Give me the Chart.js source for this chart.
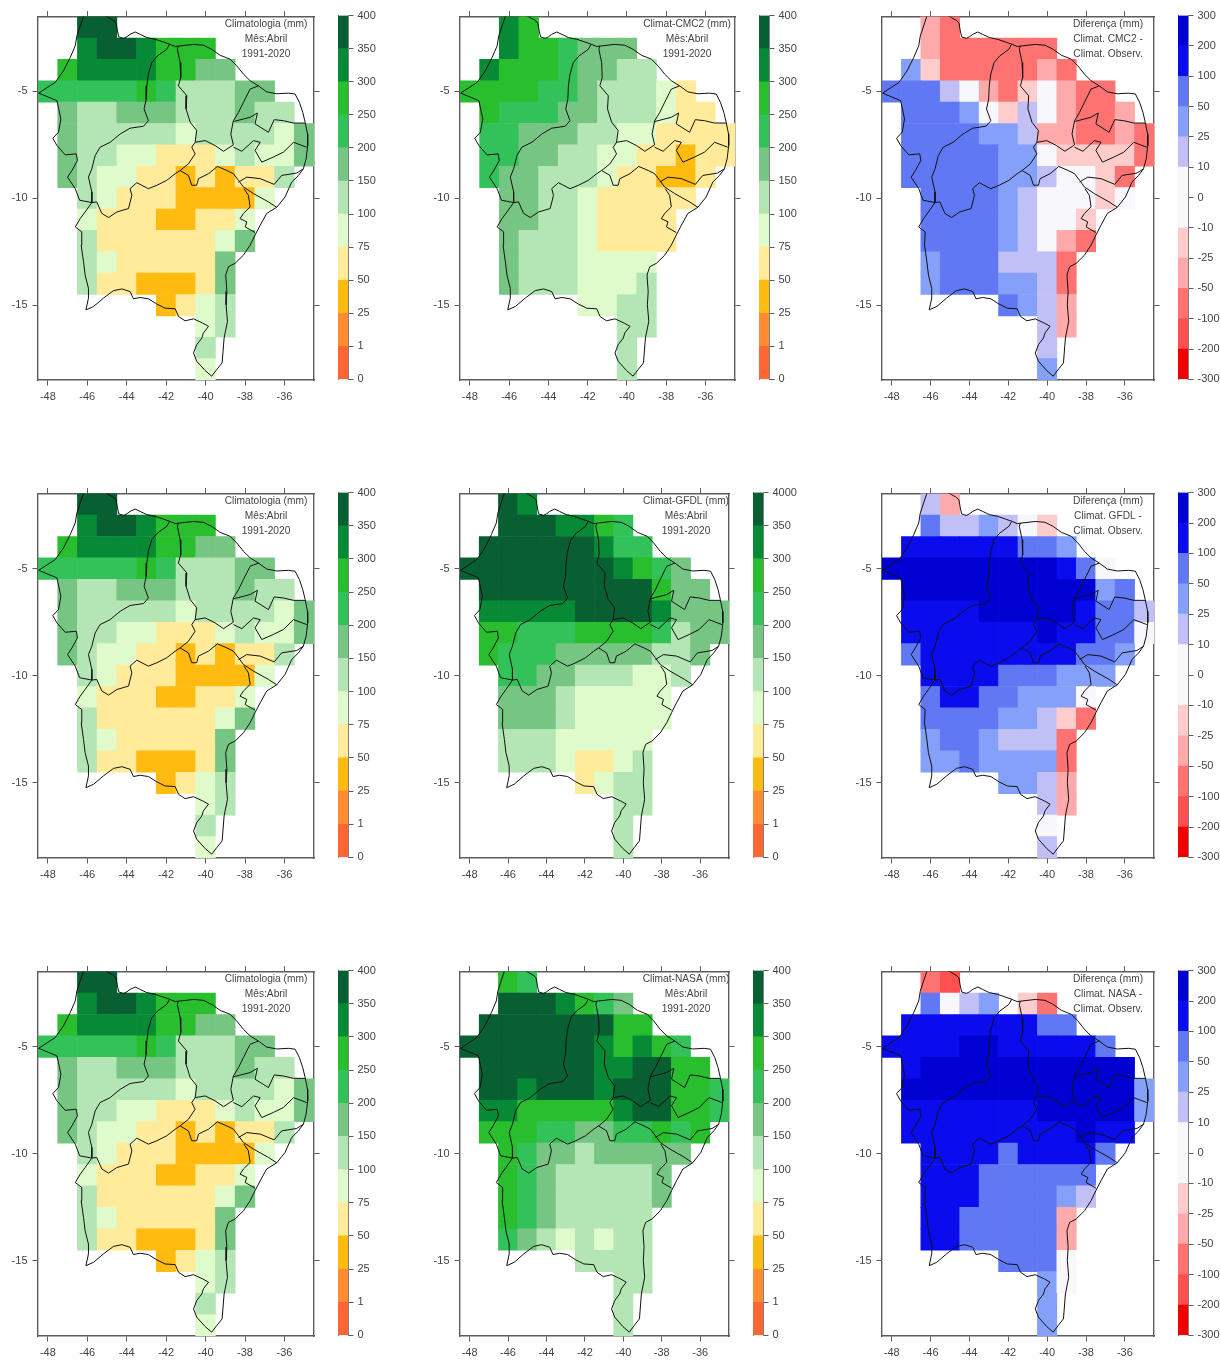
<!DOCTYPE html>
<html>
<head>
<meta charset="utf-8">
<title>Climatologia Abril</title>
<script src="https://cdn.jsdelivr.net/npm/chart.js@4"></script>
<style>
  html, body { margin: 0; background: #fff; }
  body { position: relative; width: 1220px; height: 1360px; overflow: hidden; }
  canvas { position: absolute; }
</style>
</head>
<body>
<script>
const _ = null;

// grid: lat -2..-18 (rows), lon -48..-35 (columns), value = middle of the class
const lats = [-2, -3, -4, -5, -6, -7, -8, -9, -10, -11, -12, -13, -14, -15, -16, -17, -18];
const lons = [-48, -47, -46, -45, -44, -43, -42, -41, -40, -39, -38, -37, -36, -35];
const lonTicks = [-48, -46, -44, -42, -40, -38, -36];
const latTicks = [-5, -10, -15];

const rainLevels = [0, 1, 25, 50, 75, 100, 150, 200, 250, 300, 350, 400];
const rainLabels = ["0", "1", "25", "50", "75", "100", "150", "200", "250", "300", "350", "400"];
const gfdlLabels = ["0", "1", "25", "50", "75", "100", "150", "200", "250", "300", "350", "4000"];
const rainColors = ["#ff6633", "#ff8c33", "#ffbb0f", "#ffeb9a", "#dffbcb", "#b4e5b4", "#76c583", "#33c25a", "#28be2d", "#078a35", "#085f32"];
const diffLevels = [-300, -200, -100, -50, -25, -10, 10, 25, 50, 100, 200, 300];
const diffLabels = ["-300", "-200", "-100", "-50", "-25", "-10", "0", "10", "25", "50", "100", "200", "300"];
const diffColors = ["#f00000", "#ff5050", "#ff7272", "#ffaaaa", "#ffcccc", "#f8f8fc", "#c0c0f7", "#84a0f9", "#6078f4", "#0a0cee", "#0000d2"];
// the colour bar has one step more than the map: white covers 10..0 and 0..-10
const diffBarColors = ["#f00000", "#ff5050", "#ff7272", "#ffaaaa", "#ffcccc", "#f8f8fc", "#f8f8fc", "#c0c0f7", "#84a0f9", "#6078f4", "#0a0cee", "#0000d2"];

const obsClim = [
  [_, _, 375, 375, _, _, _, _, _, _, _, _, _, _],
  [_, _, 325, 375, 375, 325, 275, 275, 275, _, _, _, _, _],
  [_, 275, 325, 325, 325, 325, 275, 275, 175, 175, _, _, _, _],
  [225, 225, 225, 225, 225, 275, 225, 125, 125, 125, 175, 175, _, _],
  [_, 175, 125, 125, 175, 175, 175, 125, 125, 125, 175, 125, 125, _],
  [_, 175, 125, 125, 125, 125, 125, 90, 125, 125, 125, 125, 90, 175],
  [_, 175, 125, 125, 90, 90, 60, 60, 60, 90, 125, 90, 90, 175],
  [_, 175, 125, 90, 90, 60, 60, 38, 60, 38, 60, 60, 125, _],
  [_, _, 125, 90, 60, 60, 60, 38, 38, 38, 38, 90, _, _],
  [_, _, 90, 60, 60, 60, 38, 38, 60, 60, 90, _, _, _],
  [_, _, 125, 60, 60, 60, 60, 60, 60, 90, 175, _, _, _],
  [_, _, 125, 90, 60, 60, 60, 60, 60, 175, _, _, _, _],
  [_, _, 125, 60, 60, 38, 38, 38, 60, 175, _, _, _, _],
  [_, _, _, _, _, _, 38, 60, 90, 125, _, _, _, _],
  [_, _, _, _, _, _, _, _, 90, 125, _, _, _, _],
  [_, _, _, _, _, _, _, _, 125, _, _, _, _, _],
  [_, _, _, _, _, _, _, _, 90, _, _, _, _, _],
];

const cmc2Clim = [
  [_, _, 325, 275, _, _, _, _, _, _, _, _, _, _],
  [_, _, 325, 275, 275, 225, 175, 175, 175, _, _, _, _, _],
  [_, 325, 275, 275, 275, 225, 175, 175, 125, 125, _, _, _, _],
  [275, 275, 275, 275, 225, 225, 175, 125, 125, 125, 90, 60, _, _],
  [_, 275, 225, 225, 225, 175, 175, 125, 125, 125, 90, 60, 60, _],
  [_, 225, 225, 175, 175, 175, 125, 125, 90, 90, 60, 60, 60, 60],
  [_, 225, 225, 175, 175, 125, 125, 90, 90, 60, 60, 38, 60, 60],
  [_, 225, 175, 175, 125, 125, 125, 90, 60, 60, 38, 38, 60, _],
  [_, _, 175, 175, 125, 125, 90, 60, 60, 60, 60, 60, _, _],
  [_, _, 175, 175, 125, 125, 90, 60, 60, 60, 60, _, _, _],
  [_, _, 175, 125, 125, 125, 90, 60, 60, 60, 60, _, _, _],
  [_, _, 175, 125, 125, 125, 90, 90, 90, 90, _, _, _, _],
  [_, _, 175, 125, 125, 125, 90, 90, 90, 125, _, _, _, _],
  [_, _, _, _, _, _, 90, 90, 125, 125, _, _, _, _],
  [_, _, _, _, _, _, _, _, 125, 125, _, _, _, _],
  [_, _, _, _, _, _, _, _, 125, _, _, _, _, _],
  [_, _, _, _, _, _, _, _, 125, _, _, _, _, _],
];

const cmc2Diff = [
  [_, _, -37, -75, _, _, _, _, _, _, _, _, _, _],
  [_, _, -37, -75, -75, -75, -75, -75, -75, _, _, _, _, _],
  [_, 37, -17, -75, -75, -75, -75, -75, -37, -75, _, _, _, _],
  [75, 75, 75, 17, 0, -37, -75, -17, 0, -37, -75, -75, _, _],
  [_, 75, 75, 75, 37, 0, -17, 17, 0, -37, -75, -75, -37, _],
  [_, 75, 75, 75, 75, 37, 37, 17, -37, -37, -75, -75, -37, -75],
  [_, 75, 75, 75, 75, 75, 37, 37, 0, -17, -17, -17, -17, -75],
  [_, 75, 75, 75, 75, 75, 37, 37, 17, 0, 0, -17, -75, _],
  [_, _, 75, 75, 75, 75, 37, 17, 0, 0, 0, -17, 0, _],
  [_, _, 75, 75, 75, 75, 37, 17, 0, 0, -17, _, _, _],
  [_, _, 75, 75, 75, 75, 37, 17, 0, -37, -75, _, _, _],
  [_, _, 37, 75, 75, 75, 17, 17, 17, -75, _, _, _, _],
  [_, _, 37, 75, 75, 75, 37, 37, 17, -75, _, _, _, _],
  [_, _, _, _, _, _, 75, 37, 17, -37, _, _, _, _],
  [_, _, _, _, _, _, _, _, 17, -37, _, _, _, _],
  [_, _, _, _, _, _, _, _, 17, _, _, _, _, _],
  [_, _, _, _, _, _, _, _, 37, _, _, _, _, _],
];

const gfdlClim = [
  [_, _, 375, 325, _, _, _, _, _, _, _, _, _, _],
  [_, _, 375, 375, 375, 325, 325, 275, 225, _, _, _, _, _],
  [_, 375, 375, 375, 375, 375, 375, 325, 225, 225, _, _, _, _],
  [375, 375, 375, 375, 375, 375, 375, 375, 325, 275, 225, 175, _, _],
  [_, 375, 375, 375, 375, 375, 375, 375, 375, 375, 275, 175, 175, _],
  [_, 325, 325, 325, 325, 325, 375, 375, 375, 375, 325, 175, 175, 175],
  [_, 275, 275, 225, 225, 225, 275, 275, 275, 275, 225, 125, 175, 175],
  [_, 275, 225, 225, 225, 175, 175, 175, 175, 175, 125, 125, 175, _],
  [_, _, 225, 225, 175, 175, 125, 125, 125, 90, 90, 125, _, _],
  [_, _, 175, 175, 175, 125, 90, 90, 90, 90, 90, _, _, _],
  [_, _, 175, 175, 175, 125, 90, 90, 90, 90, 90, _, _, _],
  [_, _, 125, 125, 125, 90, 90, 90, 90, 90, _, _, _, _],
  [_, _, 125, 125, 125, 90, 60, 60, 90, 125, _, _, _, _],
  [_, _, _, _, _, _, 60, 90, 125, 125, _, _, _, _],
  [_, _, _, _, _, _, _, _, 125, 125, _, _, _, _],
  [_, _, _, _, _, _, _, _, 125, _, _, _, _, _],
  [_, _, _, _, _, _, _, _, 125, _, _, _, _, _],
];

const gfdlDiff = [
  [_, _, 17, -37, _, _, _, _, _, _, _, _, _, _],
  [_, _, 75, 17, 17, 37, 17, 0, -17, _, _, _, _, _],
  [_, 150, 150, 150, 150, 150, 150, 75, 75, 37, _, _, _, _],
  [250, 250, 250, 250, 250, 250, 250, 250, 250, 150, 75, 0, _, _],
  [_, 250, 250, 250, 250, 250, 250, 250, 250, 250, 250, 37, 75, _],
  [_, 150, 150, 150, 150, 250, 250, 250, 250, 250, 150, 75, 75, 17],
  [_, 150, 150, 150, 150, 150, 150, 150, 250, 150, 150, 75, 75, 0],
  [_, 75, 150, 150, 150, 150, 150, 150, 150, 150, 75, 75, 37, _],
  [_, _, 150, 150, 150, 150, 75, 75, 75, 37, 37, 37, _, _],
  [_, _, 75, 150, 150, 75, 75, 37, 37, 37, 0, _, _, _],
  [_, _, 75, 75, 75, 75, 37, 37, 17, -17, -75, _, _, _],
  [_, _, 37, 75, 75, 37, 17, 17, 17, -75, _, _, _, _],
  [_, _, 37, 37, 75, 37, 37, 37, 37, -75, _, _, _, _],
  [_, _, _, _, _, _, 37, 37, 17, -37, _, _, _, _],
  [_, _, _, _, _, _, _, _, 17, -37, _, _, _, _],
  [_, _, _, _, _, _, _, _, 0, _, _, _, _, _],
  [_, _, _, _, _, _, _, _, 17, _, _, _, _, _],
];

const nasaClim = [
  [_, _, 275, 225, _, _, _, _, _, _, _, _, _, _],
  [_, _, 375, 375, 375, 325, 275, 225, 175, _, _, _, _, _],
  [_, 375, 375, 375, 375, 375, 375, 375, 275, 275, _, _, _, _],
  [375, 375, 375, 375, 375, 375, 375, 325, 275, 325, 275, 225, _, _],
  [_, 375, 375, 375, 375, 375, 375, 325, 325, 375, 375, 275, 275, _],
  [_, 375, 375, 325, 375, 375, 375, 325, 375, 375, 375, 275, 275, 225],
  [_, 325, 325, 275, 275, 275, 275, 275, 325, 375, 375, 275, 275, 225],
  [_, 275, 275, 275, 225, 225, 175, 175, 225, 225, 275, 225, 275, _],
  [_, _, 275, 225, 175, 175, 125, 175, 175, 175, 175, 175, _, _],
  [_, _, 275, 225, 175, 125, 125, 125, 125, 125, 175, _, _, _],
  [_, _, 275, 225, 175, 125, 125, 125, 125, 125, 175, _, _, _],
  [_, _, 275, 225, 175, 125, 125, 125, 125, 125, _, _, _, _],
  [_, _, 225, 175, 125, 90, 125, 90, 125, 125, _, _, _, _],
  [_, _, _, _, _, _, 125, 125, 125, 125, _, _, _, _],
  [_, _, _, _, _, _, _, _, 125, 125, _, _, _, _],
  [_, _, _, _, _, _, _, _, 125, _, _, _, _, _],
  [_, _, _, _, _, _, _, _, 125, _, _, _, _, _],
];

const nasaDiff = [
  [_, _, -75, -150, _, _, _, _, _, _, _, _, _, _],
  [_, _, 75, 0, 17, 37, _, -17, -75, _, _, _, _, _],
  [_, 150, 150, 150, 150, 150, 150, 150, 75, 75, _, _, _, _],
  [150, 150, 150, 150, 250, 250, 150, 150, 150, 150, 150, 75, _, _],
  [_, 150, 250, 250, 250, 250, 250, 250, 250, 250, 250, 250, 250, _],
  [_, 250, 250, 250, 250, 250, 250, 250, 250, 250, 250, 250, 250, 37],
  [_, 150, 150, 150, 150, 150, 150, 150, 250, 250, 250, 250, 250, 37],
  [_, 150, 150, 150, 150, 150, 150, 150, 150, 150, 250, 150, 150, _],
  [_, _, 150, 150, 150, 150, 75, 150, 150, 150, 150, 75, _, _],
  [_, _, 150, 150, 150, 75, 75, 75, 75, 75, 75, _, _, _],
  [_, _, 150, 150, 150, 75, 75, 75, 75, 37, 17, _, _, _],
  [_, _, 150, 150, 75, 75, 75, 75, 75, -37, _, _, _, _],
  [_, _, 150, 150, 75, 75, 75, 75, 75, -37, _, _, _, _],
  [_, _, _, _, _, _, 75, 75, 75, 0, _, _, _, _],
  [_, _, _, _, _, _, _, _, 37, 0, _, _, _, _],
  [_, _, _, _, _, _, _, _, 37, _, _, _, _, _],
  [_, _, _, _, _, _, _, _, 37, _, _, _, _, _],
];

// borders as [lon, lat]
const outerBorder = [
  [-45.2, -1.4], [-44.92, -1.55], [-44.7, -1.66], [-44.54, -1.79], [-44.47, -2.17], [-44.4, -2.45], [-44.16, -2.52], [-43.99, -2.44],
  [-43.83, -2.33], [-43.57, -2.22], [-43.32, -2.33], [-42.98, -2.48], [-42.56, -2.56], [-42.14, -2.69], [-41.8, -2.8], [-41.54, -2.9],
  [-41.29, -2.87], [-40.61, -2.8], [-40.11, -2.84], [-39.69, -3.03], [-39.26, -3.31], [-38.76, -3.49], [-38.42, -3.8], [-38.08, -4.19],
  [-37.74, -4.5], [-37.32, -4.74], [-36.9, -5.02], [-36.39, -5.11], [-35.8, -5.08], [-35.46, -5.12], [-35.24, -5.51], [-35.07, -5.98],
  [-34.95, -6.44], [-34.83, -6.99], [-34.82, -7.53], [-34.9, -8.15], [-35.04, -8.62], [-35.29, -8.93], [-35.63, -9.24], [-35.97, -9.94],
  [-36.39, -10.42], [-36.9, -10.71], [-37.23, -11.26], [-37.49, -11.72], [-37.74, -12.19], [-38.08, -12.66], [-38.5, -13.04], [-38.84, -13.2],
  [-38.98, -13.59], [-38.92, -14.36], [-38.96, -14.98], [-38.89, -15.76], [-39.06, -16.54], [-39.16, -17.7], [-39.43, -18.01], [-39.69, -18.32],
  [-40.02, -18.06], [-40.45, -17.62], [-40.61, -17.24], [-40.45, -16.85], [-40.19, -16.54], [-40.11, -16.3], [-39.85, -15.99], [-40.14, -15.84],
  [-40.61, -15.64], [-41.04, -15.73], [-41.37, -15.53], [-41.54, -15.17], [-42.05, -15.14], [-42.47, -14.95], [-42.9, -14.7], [-43.32, -14.64],
  [-43.66, -14.7], [-43.83, -14.36], [-44.25, -14.24], [-44.67, -14.32], [-45.18, -14.67], [-45.68, -15.06], [-46.07, -15.22], [-45.94, -14.67],
  [-45.94, -14.21], [-46.11, -13.59], [-46.19, -12.97], [-46.31, -12.19], [-46.28, -11.57], [-46.61, -11.34], [-46.36, -10.95], [-46.11, -10.64],
  [-45.77, -10.2], [-46.39, -10.09], [-46.61, -9.55], [-47, -9.01], [-46.78, -8.7], [-46.5, -8.23], [-46.56, -7.92], [-47.12, -7.97],
  [-47.54, -7.53], [-47.75, -7.19], [-47.46, -6.91], [-47.34, -6.29], [-47.54, -5.43], [-48.47, -5.08], [-47.63, -4.58], [-47.21, -4.04],
  [-46.87, -3.42], [-46.61, -2.87], [-46.53, -2.41], [-46.19, -1.48], [-46.02, -1.16],
];
const borderMaPi = [
  [-41.83, -2.8], [-41.97, -3.03], [-42.44, -3.34], [-42.73, -3.65], [-42.9, -4.19], [-42.98, -4.74], [-43.01, -5.36], [-43.12, -5.82], [-42.9, -6.37],
  [-43.15, -6.63], [-43.83, -6.72], [-44.33, -6.99], [-44.84, -7.38], [-45.35, -7.61], [-45.6, -8], [-45.77, -8.62], [-45.94, -9.01], [-45.77, -9.7], [-45.77, -10.2],
];
const borderPiCe = [
  [-41.38, -2.87], [-41.43, -3.03], [-41.29, -3.65], [-41.26, -4.35], [-41.38, -4.74], [-40.95, -5.2], [-40.99, -5.82], [-40.78, -6.44], [-40.45, -6.83],
  [-40.53, -7.38], [-40.7, -7.61], [-40.53, -7.92], [-40.87, -8.39], [-41.29, -8.7],
];
const borderPiBa = [
  [-45.77, -10.2], [-45.52, -10.17], [-45.26, -10.71], [-44.92, -10.9], [-44.5, -10.64], [-43.91, -10.48], [-43.74, -9.86], [-43.83, -9.55], [-43.49, -9.27],
  [-42.9, -9.55], [-42.47, -9.39], [-41.97, -9.16], [-41.54, -8.85], [-41.29, -8.7],
];
const borderBaPe = [
  [-41.29, -8.7], [-40.87, -8.93], [-40.7, -9.39], [-40.45, -9.39], [-40.36, -9.08], [-39.85, -8.85], [-39.4, -8.51], [-38.92, -8.7], [-38.59, -8.85],
  [-38.33, -9.16], [-38.08, -9.47], [-37.57, -9.78], [-36.81, -10.17], [-36.39, -10.42],
];
const borderPeAl = [[-38.33, -9.24], [-37.91, -9.01], [-37.23, -9.08], [-36.52, -9.35], [-36.14, -8.93], [-35.38, -8.82], [-35.04, -8.62]];
const borderSeBa = [[-38.05, -9.55], [-37.83, -9.86], [-37.74, -10.4], [-38.08, -10.71], [-38.25, -10.95], [-37.91, -11.1], [-37.99, -11.34], [-37.49, -11.6]];
const borderCeRn = [[-37.32, -4.74], [-37.74, -4.89], [-38.08, -5.51], [-38.33, -5.98], [-38.59, -6.37]];
const borderRnPb = [
  [-38.59, -6.41], [-37.74, -6.21], [-37.37, -6.01], [-37.49, -6.52], [-36.81, -6.91], [-36.52, -6.32], [-36.05, -6.37], [-35.54, -6.48], [-34.95, -6.48],
];
const borderCePb = [[-38.59, -6.37], [-38.72, -6.99], [-38.59, -7.5]];
const borderCePe = [[-40.53, -7.38], [-40.02, -7.3], [-39.52, -7.53], [-39.09, -7.8], [-38.59, -7.5]];
const borderPbPe = [
  [-38.59, -7.61], [-38.16, -7.8], [-37.57, -7.3], [-37.23, -7.38], [-37.49, -7.76], [-37.15, -8.31], [-36.56, -8.07], [-36.05, -7.84], [-35.54, -7.38], [-34.87, -7.61],
];
const allBorders = [outerBorder, borderMaPi, borderPiCe, borderPiBa, borderBaPe, borderPeAl, borderSeBa, borderCeRn, borderRnPb, borderCePb, borderCePe, borderPbPe];

const fontFamily = '"Liberation Sans", Arial, sans-serif';
const textColor = "#444";
const lineGray = "#5c5c5c";

function classColor(value, levels, colors) {
  for (let i = 0; i < colors.length; i++) {
    if (value < levels[i + 1]) return colors[i];
  }
  return colors[colors.length - 1];
}

function addCanvas(left, top, width, height) {
  const canvas = document.createElement("canvas");
  canvas.width = width;
  canvas.height = height;
  canvas.style.left = left + "px";
  canvas.style.top = top + "px";
  canvas.style.width = width + "px";
  canvas.style.height = height + "px";
  document.body.appendChild(canvas);
  return canvas;
}

const noteLines = {
  id: "noteLines",
  afterDraw(chart, args, opts) {
    const ctx = chart.ctx;
    ctx.save();
    ctx.font = "10.2px " + fontFamily;
    ctx.fillStyle = textColor;
    ctx.textAlign = "center";
    ctx.textBaseline = "middle";
    opts.lines.forEach((line, i) => {
      ctx.fillText(line, chart.chartArea.left + opts.centerX, chart.chartArea.top + 7.5 + i * 15);
    });
    ctx.restore();
  },
};

function axisEdge(axisMin, axisMax, position, size, tickValues, showLabels) {
  return {
    type: "linear",
    position: position,
    min: axisMin,
    max: axisMax,
    offset: false,
    afterBuildTicks(scale) {
      scale.ticks = tickValues.map((v) => ({ value: v }));
    },
    afterFit(scale) {
      if (position === "left" || position === "right") scale.width = size;
      else scale.height = size;
    },
    border: { display: true, color: lineGray, width: 1.4 },
    grid: { offset: false, drawOnChartArea: false, drawTicks: true, tickLength: 5.5, tickColor: lineGray, tickWidth: 1 },
    ticks: {
      display: showLabels,
      autoSkip: false,
      maxRotation: 0,
      padding: 5,
      color: textColor,
      font: { family: fontFamily, size: 11 },
      callback: (v) => String(v),
    },
  };
}

function drawMap(box, grid, levels, colors, lines, centerX) {
  const left = 40, right = 10, top = 10, bottom = 30;
  const width = box.r - box.l + left + right;
  const height = box.b - box.t + top + bottom;
  const canvas = addCanvas(box.l - left, box.t - top, width, height);

  const cells = [];
  grid.forEach((row, r) => {
    row.forEach((value, c) => {
      if (value === null) return;
      cells.push({ x: lons[c], y: [lats[r] - 0.5, lats[r] + 0.5], mm: value });
    });
  });

  const borderSets = allBorders.map((border) => ({
    type: "line",
    data: border.map((p) => ({ x: p[0], y: p[1] })),
    borderColor: "#111",
    borderWidth: 1,
    pointRadius: 0,
    tension: 0,
    fill: false,
    order: 1,
  }));

  new Chart(canvas, {
    type: "bar",
    data: {
      datasets: [
        {
          data: cells,
          backgroundColor: cells.map((cell) => classColor(cell.mm, levels, colors)),
          barPercentage: 1,
          categoryPercentage: 1,
          order: 2,
        },
        ...borderSets,
      ],
    },
    options: {
      responsive: false,
      animation: false,
      events: [],
      layout: { padding: 0 },
      plugins: {
        legend: { display: false },
        tooltip: { enabled: false },
        noteLines: { lines: lines, centerX: centerX },
      },
      scales: {
        x: axisEdge(-48.5, -34.5, "bottom", bottom, lonTicks, true),
        y: axisEdge(-18.5, -1.5, "left", left, latTicks, true),
        x2: axisEdge(-48.5, -34.5, "top", top, lonTicks, false),
        y2: axisEdge(-18.5, -1.5, "right", right, latTicks, false),
      },
    },
    plugins: [noteLines],
  });
}

function drawColorBar(barLeft, box, tickLabels, colors) {
  const barWidth = 10, axisWidth = 40, pad = 10, leftGap = 1;
  const canvas = addCanvas(barLeft - leftGap, box.t - pad, leftGap + barWidth + axisWidth, box.b - box.t + pad * 2);
  const tickIndex = tickLabels.map((label, i) => i);

  new Chart(canvas, {
    type: "bar",
    data: {
      labels: [""],
      datasets: colors.map((color, i) => ({
        data: [[i, i + 1]],
        backgroundColor: color,
        barPercentage: 1,
        categoryPercentage: 1,
        grouped: false,
      })),
    },
    options: {
      responsive: false,
      animation: false,
      events: [],
      layout: { padding: { top: pad, bottom: pad } },
      plugins: { legend: { display: false }, tooltip: { enabled: false } },
      scales: {
        x: { display: false },
        y: {
          position: "right",
          min: 0,
          max: colors.length,
          afterBuildTicks(scale) {
            scale.ticks = tickIndex.map((v) => ({ value: v }));
          },
          afterFit(scale) {
            scale.width = axisWidth;
          },
          border: { display: true, color: "#808080", width: 1 },
          grid: { drawOnChartArea: false, drawTicks: true, tickLength: 5.5, tickColor: lineGray, tickWidth: 1 },
          ticks: {
            autoSkip: false,
            padding: 4,
            color: textColor,
            font: { family: fontFamily, size: 11 },
            callback: (v) => tickLabels[v],
          },
        },
        yLeft: {
          position: "left",
          min: 0,
          max: colors.length,
          afterFit(scale) {
            scale.width = leftGap;
          },
          border: { display: true, color: "#808080", width: 1 },
          grid: { drawOnChartArea: false, drawTicks: false },
          ticks: { display: false },
        },
      },
    },
  });
}

// frames of the panels
const rowY = [{ t: 15, b: 380 }, { t: 492, b: 858 }, { t: 970, b: 1336 }];
const obsLines = ["Climatologia (mm)", "Mês:Abril", "1991-2020"];

rowY.forEach((row) => {
  const box = { l: 38, r: 314, t: row.t, b: row.b };
  drawMap(box, obsClim, rainLevels, rainColors, obsLines, 228);
  drawColorBar(338, box, rainLabels, rainColors);
});

drawMap({ l: 460, r: 735, t: 15, b: 380 }, cmc2Clim, rainLevels, rainColors, ["Climat-CMC2 (mm)", "Mês:Abril", "1991-2020"], 227);
drawColorBar(759, rowY[0], rainLabels, rainColors);
drawMap({ l: 460, r: 729, t: 492, b: 858 }, gfdlClim, rainLevels, rainColors, ["Climat-GFDL (mm)", "Mês:Abril", "1991-2020"], 226);
drawColorBar(753, rowY[1], gfdlLabels, rainColors);
drawMap({ l: 460, r: 729, t: 970, b: 1336 }, nasaClim, rainLevels, rainColors, ["Climat-NASA (mm)", "Mês:Abril", "1991-2020"], 226);
drawColorBar(753, rowY[2], rainLabels, rainColors);

drawMap({ l: 882, r: 1154, t: 15, b: 380 }, cmc2Diff, diffLevels, diffColors, ["Diferença (mm)", "Climat. CMC2 -", "Climat. Observ."], 226);
drawColorBar(1178, rowY[0], diffLabels, diffBarColors);
drawMap({ l: 882, r: 1154, t: 492, b: 858 }, gfdlDiff, diffLevels, diffColors, ["Diferença (mm)", "Climat. GFDL -", "Climat. Observ."], 226);
drawColorBar(1178, rowY[1], diffLabels, diffBarColors);
drawMap({ l: 882, r: 1154, t: 970, b: 1336 }, nasaDiff, diffLevels, diffColors, ["Diferença (mm)", "Climat. NASA -", "Climat. Observ."], 226);
drawColorBar(1178, rowY[2], diffLabels, diffBarColors);
</script>
</body>
</html>
